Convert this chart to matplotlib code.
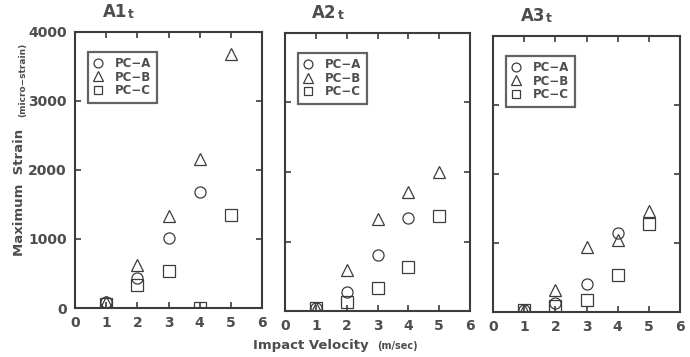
import numpy as np
import matplotlib.pyplot as plt

# -------------------------------
# Data
# -------------------------------
velocity = [1, 2, 3, 4, 5]
panel_titles = ["A1", "A2", "A3"]
series_names = ["PC\u2212A", "PC\u2212B", "PC\u2212C"]

# A1t
a1_pc_a = [90, 430, 1020, 1680, np.nan]
a1_pc_b = [80, 630, 1330, 2160, 3680]
a1_pc_c = [60, 330, 540, 0, 1350]
# A2t
a2_pc_a = [40, 280, 810, 1340, np.nan]
a2_pc_b = [40, 590, 1330, 1710, 2000]
a2_pc_c = [40, 130, 330, 630, 1360]
# A3t
a3_pc_a = [30, 130, 410, 1140, np.nan]
a3_pc_b = [30, 320, 940, 1050, 1470]
a3_pc_c = [30, 90, 170, 530, 1280]

panels = [
    (a1_pc_a, a1_pc_b, a1_pc_c),
    (a2_pc_a, a2_pc_b, a2_pc_c),
    (a3_pc_a, a3_pc_b, a3_pc_c),
]

x_ticks = [0, 1, 2, 3, 4, 5, 6]
y_ticks = [0, 1000, 2000, 3000, 4000]

# -------------------------------
# Style
# -------------------------------
INK = "#3c3c3c"
TXT = "#4d4d4d"
markers = ["o", "^", "s"]
msizes = [8, 8.5, 8]
plt.rcParams["font.family"] = ["DejaVu Sans"]

fig = plt.figure(figsize=(6.9, 3.57), dpi=100)

# axes boxes in figure fractions (left, bottom, width, height)
boxes = [
    (75 / 690, 49 / 357, 187 / 690, 276 / 357),
    (285 / 690, 46 / 357, 185 / 690, 278 / 357),
    (493 / 690, 45 / 357, 187 / 690, 276 / 357),
]

for i, (box, data) in enumerate(zip(boxes, panels)):
    ax = fig.add_axes(box)
    for vals, mk, ms, name in zip(data, markers, msizes, series_names):
        ax.plot(velocity, vals, linestyle="none", marker=mk, ms=ms,
                mfc="none", mec=INK, mew=0.9, label=name)

    ax.set_xlim(0, 6)
    ax.set_ylim(0, 4000)
    ax.set_xticks(x_ticks)
    ax.set_yticks(y_ticks)
    ax.tick_params(direction="in", length=4, width=1.2, color=INK,
                   top=True, right=True, labelsize=10, labelcolor=TXT, pad=6)
    for lab in ax.get_xticklabels() + ax.get_yticklabels():
        lab.set_fontweight("bold")
    if i > 0:
        ax.set_yticklabels([])
    for sp in ax.spines.values():
        sp.set_linewidth(1.5)
        sp.set_color(INK)

    leg = ax.legend(loc="upper left", bbox_to_anchor=(0.04, 0.95),
                    frameon=True, fancybox=False, handlelength=0.8,
                    handletextpad=1.0, borderpad=0.45, labelspacing=0.05,
                    markerscale=0.8,
                    prop={"weight": "bold", "size": 8.5})
    leg.get_frame().set_edgecolor(INK)
    leg.get_frame().set_linewidth(1.6)
    for t in leg.get_texts():
        t.set_color(TXT)

    # panel title: "A1" with a small trailing "t"
    ax.text(0.28, 1.04, panel_titles[i], transform=ax.transAxes,
            ha="right", va="bottom", fontsize=12, fontweight="bold", color=TXT)
    ax.text(0.285, 1.04, "t", transform=ax.transAxes,
            ha="left", va="bottom", fontsize=9, fontweight="bold", color=TXT)

# axis labels
fig.text(20 / 690, 1 - 192 / 357, "Maximum  Strain", rotation=90,
         ha="center", va="center", fontsize=9.5, fontweight="bold", color=TXT)
fig.text(23 / 690, 1 - 80 / 357, "(micro\u2212strain)", rotation=90,
         ha="center", va="center", fontsize=6.5, fontweight="bold", color=TXT)
fig.text(311 / 690, 1 - 345 / 357, "Impact Velocity", ha="center",
         va="center", fontsize=9.5, fontweight="bold", color=TXT)
fig.text(397 / 690, 1 - 346 / 357, "(m/sec)", ha="center",
         va="center", fontsize=7, fontweight="bold", color=TXT)

fig.savefig("out.png", dpi=100)
